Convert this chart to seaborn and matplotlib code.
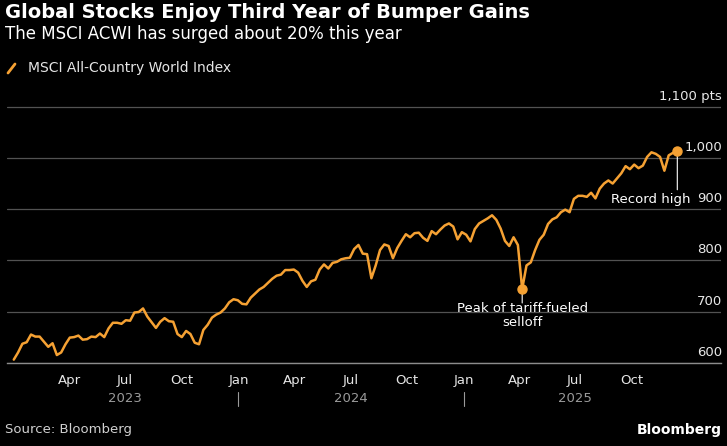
import pandas as pd
import numpy as np
import matplotlib
matplotlib.use('Agg')
import matplotlib.pyplot as plt
import matplotlib.dates as mdates
import matplotlib.transforms as mtransforms
from matplotlib.lines import Line2D
from matplotlib.ticker import FixedLocator
import seaborn as sns

# Weekly MSCI ACWI levels, first week of Jan 2023 onwards
start_date = '2023-01-01'
acwi = [
    606, 620, 637, 640, 655, 651, 651, 641, 631, 638,
    615, 620, 636, 649, 650, 653, 645, 646, 651, 650,
    657, 650, 667, 678, 678, 676, 683, 682, 698, 699,
    706, 690, 679, 668, 680, 687, 681, 680, 656, 650,
    662, 656, 639, 636, 664, 674, 688, 694, 698, 706,
    718, 724, 722, 715, 714, 727, 735, 743, 748, 756,
    764, 770, 772, 781, 781, 782, 776, 760, 748, 759,
    762, 782, 792, 784, 795, 797, 802, 804, 805, 822,
    830, 813, 812, 765, 790, 820, 831, 828, 804, 824,
    838, 851, 845, 853, 854, 844, 838, 857, 851, 860,
    868, 872, 866, 841, 855, 850, 837, 861, 872, 877,
    882, 888, 879, 862, 838, 828, 845, 830, 744, 790,
    796, 820, 840, 850, 871, 880, 884, 894, 899, 894,
    920, 926, 926, 924, 932, 921, 940, 950, 956, 950,
    960, 970, 984, 978, 987, 980, 985, 1002, 1011, 1008,
    1002, 975, 1005, 1010, 1014,
]
low_idx = 118  # peak of tariff-fueled selloff
y_ticks = [600, 700, 800, 900, 1000, 1100]
y_tick_labels = ['600', '700', '800', '900', '1,000', '1,100 pts']
years = [2023, 2024, 2025]

ORANGE = '#f5a133'
GRID = '#525252'
AXIS = '#8c8c8c'

df = pd.DataFrame({
    'date': pd.date_range(start_date, periods=len(acwi), freq='7D'),
    'acwi': acwi,
})

sns.set_style('dark')
plt.rcParams['font.family'] = ['DejaVu Sans']

W, H = 727, 446
fig = plt.figure(figsize=(W / 100, H / 100), dpi=100, facecolor='black')
ax = fig.add_axes([7 / W, 83.3 / H, 714 / W, 258 / H])
ax.set_facecolor('black')

sns.lineplot(data=df, x='date', y='acwi', ax=ax, color=ORANGE, linewidth=1.8, zorder=3)

ax.set_ylim(600, 1104)
ax.set_xlim(pd.Timestamp('2022-12-21'), pd.Timestamp('2026-02-23'))
ax.set_xlabel('')
ax.set_ylabel('')

# horizontal grid + right-hand labels sitting above each line
ax.set_yticks(y_ticks)
ax.yaxis.grid(True, color=GRID, linewidth=0.9)
ax.xaxis.grid(False)
ax.tick_params(axis='y', length=0, labelleft=False)
for v, lab in zip(y_ticks, y_tick_labels):
    ax.annotate(lab, xy=(1, v), xycoords=('axes fraction', 'data'),
                xytext=(1, 7), textcoords='offset pixels',
                ha='right', va='baseline', color='#e8e8e8', fontsize=9.5)

for side in ['top', 'right', 'left']:
    ax.spines[side].set_visible(False)
ax.spines['bottom'].set_color(AXIS)
ax.spines['bottom'].set_linewidth(1)

# months
major = pd.date_range('2023-04-01', '2025-10-01', freq='QS')
minor = pd.date_range('2023-01-01', '2025-12-01', freq='MS')
ax.xaxis.set_major_locator(FixedLocator(mdates.date2num(major)))
ax.xaxis.set_minor_locator(FixedLocator(mdates.date2num(minor)))
ax.xaxis.set_major_formatter(mdates.DateFormatter('%b'))
ax.tick_params(axis='x', which='major', length=4.5, width=0.8, color=AXIS,
               labelcolor='#e6e6e6', labelsize=9.5, pad=3.5)
ax.tick_params(axis='x', which='minor', length=2.8, width=0.8, color=AXIS)

# years and separators
trans = mtransforms.blended_transform_factory(ax.transData, ax.transAxes)
for yr in years:
    ax.text(mdates.date2num(pd.Timestamp(f'{yr}-07-01')), -0.137, str(yr),
            transform=trans, ha='center', va='center', color='#9a9a9a', fontsize=9.5)
for yr in years[1:]:
    xn = mdates.date2num(pd.Timestamp(f'{yr}-01-01'))
    ax.plot([xn, xn], [-0.114, -0.169], transform=trans, clip_on=False,
            color='#9a9a9a', linewidth=0.8)

# annotations
low = df.iloc[low_idx]
hi = df.iloc[-1]
ax.annotate('', xy=(low['date'], low['acwi']), xytext=(0, -14), textcoords='offset pixels',
            arrowprops=dict(arrowstyle='-', color='white', lw=0.8, shrinkA=0, shrinkB=0))
ax.annotate('Peak of tariff-fueled\nselloff', xy=(low['date'], low['acwi']),
            xytext=(0, -13), textcoords='offset pixels', ha='center', va='top',
            color='white', fontsize=9.5, linespacing=1.1, zorder=6)
ax.annotate('', xy=(hi['date'], hi['acwi']), xytext=(0, -39), textcoords='offset pixels',
            arrowprops=dict(arrowstyle='-', color='white', lw=0.8, shrinkA=0, shrinkB=0))
ax.annotate('Record high', xy=(hi['date'], hi['acwi']),
            xytext=(-27, -52), textcoords='offset pixels', ha='center', va='baseline',
            color='white', fontsize=9.5, zorder=6)
for pt in (low, hi):
    ax.plot(pt['date'], pt['acwi'], 'o', color=ORANGE, ms=6.5, zorder=5)

# header / footer
fig.text(5 / W, 1 - 3 / H, 'Global Stocks Enjoy Third Year of Bumper Gains',
         ha='left', va='top', color='white', fontsize=14, fontweight='bold')
fig.text(5 / W, 1 - 25 / H, 'The MSCI ACWI has surged about 20% this year',
         ha='left', va='top', color='white', fontsize=12)
fig.add_artist(Line2D([8 / W, 15 / W], [1 - 73 / H, 1 - 64 / H],
                      color=ORANGE, linewidth=2, transform=fig.transFigure))
fig.text(28 / W, 1 - 68 / H, 'MSCI All-Country World Index',
         ha='left', va='center', color='#e6e6e6', fontsize=10)
fig.text(5 / W, 1 - 430 / H, 'Source: Bloomberg',
         ha='left', va='center', color='#d0d0d0', fontsize=9.5)
fig.text(722 / W, 1 - 430 / H, 'Bloomberg',
         ha='right', va='center', color='white', fontsize=10, fontweight='bold')

fig.savefig('out.png', dpi=100, facecolor='black')
